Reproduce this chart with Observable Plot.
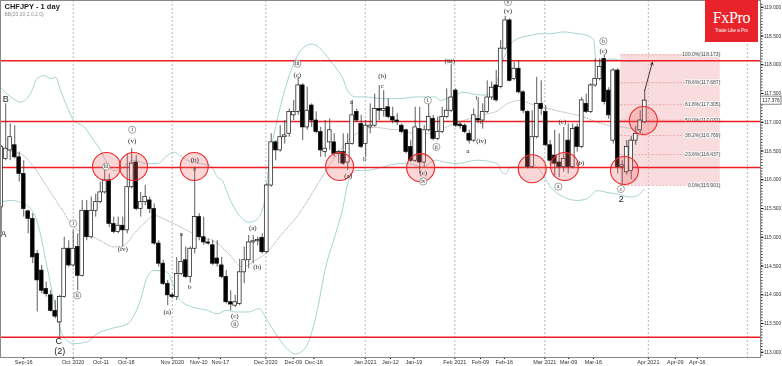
<!DOCTYPE html>
<html><head><meta charset="utf-8">
<script src="https://cdn.jsdelivr.net/npm/d3@7"></script>
<script src="https://cdn.jsdelivr.net/npm/@observablehq/plot@0.6"></script>
<style>
body{margin:0;background:#fff;}
#wrap{position:relative;width:782px;height:366px;font-family:"Liberation Sans",Arial,sans-serif;}
#logo{position:absolute;left:705px;top:0;width:53px;height:42px;background:#e8232a;color:#fff;text-align:center;}
#logo .t1{font-family:"Liberation Serif",serif;font-size:16px;line-height:16px;margin-top:10px;letter-spacing:-0.3px;}
#logo .t2{font-size:4.5px;margin-top:2px;}
</style></head><body>
<div id="wrap"><div id="chart"></div><div id="logo"><div class="t1">FxPro</div><div class="t2">Trade Like a Pro</div></div></div>
<script>
// ---- data (bar index k: 0 = Oct 1 2020, consecutive trading days) ----
const firstK = -16;
const opens  = [115.52,116.36,116.51,116.60,116.39,116.10,115.45,115.32,114.71,114.42,114.10,113.99,113.72,113.52,113.96,114.80,
114.51,114.83,114.33,115.46,115.00,115.46,115.61,115.78,115.99,115.23,115.09,115.20,115.12,115.87,116.30,115.49,115.61,115.64,115.49,114.89,114.54,114.19,
113.99,113.96,114.36,114.60,114.31,114.80,115.35,115.00,114.91,114.86,114.63,114.51,114.31,113.87,113.81,113.84,114.39,114.60,114.91,114.93,114.99,
114.74,115.90,116.65,116.51,116.74,116.80,117.12,117.18,117.64,116.91,117.29,117.03,116.83,116.48,116.65,116.65,116.45,116.48,116.30,116.62,117.18,116.97,
116.62,116.91,116.94,117.23,117.20,117.26,117.09,117.03,116.94,116.86,116.57,116.33,116.88,116.30,116.86,117.06,116.71,116.83,117.09,117.20,
117.55,116.96,116.94,116.80,116.68,117.06,117.03,117.18,117.43,117.64,117.61,118.28,118.77,117.75,117.93,117.52,117.18,116.22,116.74,117.32,
117.18,116.60,116.42,116.30,116.22,116.68,116.22,116.91,116.57,117.32,117.18,117.64,117.75,118.10,117.55,116.68,117.90,116.22,116.13,116.15,116.68,116.86,117.00];
const highs  = [116.60,117.32,116.97,116.94,116.48,116.33,115.47,115.41,114.77,114.51,114.22,114.07,113.90,113.99,115.00,114.94,
115.12,115.06,115.64,115.64,115.70,115.75,115.96,116.28,116.10,115.35,115.35,115.35,116.45,116.54,116.42,115.78,115.90,115.70,115.58,114.94,114.60,114.25,
114.02,114.65,115.06,114.83,114.83,116.22,115.41,115.35,114.97,114.94,114.94,114.65,114.42,114.07,113.99,114.62,114.83,115.03,115.03,115.00,115.06,
115.93,116.80,116.68,116.94,117.03,117.23,117.38,117.78,117.67,117.61,117.32,117.18,116.91,117.03,117.06,116.80,116.51,116.80,116.80,117.38,117.23,117.12,
117.03,117.32,117.49,117.64,117.55,117.41,117.26,117.15,116.97,116.88,116.68,117.26,117.26,116.94,117.32,117.12,117.09,117.26,117.58,118.01,
117.58,117.00,116.97,116.86,117.23,117.38,117.32,117.72,117.70,117.90,118.42,118.84,118.80,118.04,118.07,117.55,117.20,117.20,117.78,117.72,
117.29,116.68,116.86,116.80,116.91,116.97,116.97,116.97,117.43,117.49,117.67,118.10,118.10,118.173,117.60,117.93,117.93,116.33,116.68,116.75,116.93,117.20,117.55];
const lows   = [115.06,116.33,116.33,116.36,115.96,115.35,115.06,114.54,113.70,114.02,113.96,113.70,113.58,113.26,113.94,114.48,
114.48,114.07,114.31,114.94,114.97,115.35,115.58,115.75,115.17,115.06,115.06,114.83,115.06,115.84,115.46,115.35,115.55,115.41,114.86,114.48,114.16,113.81,
113.93,113.90,114.33,114.28,114.20,114.71,114.94,114.86,114.86,114.51,114.48,114.28,113.84,113.72,113.78,113.81,114.19,114.45,114.54,114.85,114.71,
114.71,115.87,116.33,116.48,116.62,116.74,117.03,117.12,116.68,116.86,116.91,116.80,116.39,116.39,116.51,116.39,116.28,116.25,116.16,116.60,117.00,116.54,
116.39,116.80,116.91,117.03,117.09,117.06,116.97,116.94,116.80,116.45,116.30,116.30,116.10,116.22,116.83,116.68,116.68,116.80,117.06,117.17,
116.91,116.88,116.80,116.62,116.65,116.97,116.88,117.15,117.38,117.35,117.58,118.25,117.70,117.72,117.49,117.15,116.19,116.19,116.71,117.12,
116.57,116.25,116.07,116.04,116.13,116.10,116.19,116.48,116.54,117.15,117.15,117.61,117.72,117.30,117.05,116.62,116.10,115.901,116.08,116.00,116.60,116.80,116.97];
const closes = [116.57,116.54,116.74,116.39,116.10,115.49,115.32,114.65,114.25,114.07,114.01,113.72,113.62,113.96,114.80,114.51,
114.80,114.33,115.46,115.00,115.46,115.61,115.78,115.99,115.23,115.09,115.20,115.12,115.87,116.28,115.49,115.61,115.70,115.49,114.89,114.54,114.19,113.99,
113.96,114.36,114.57,114.31,114.80,115.35,115.00,114.91,114.89,114.54,114.54,114.31,113.87,113.83,113.87,114.39,114.60,114.91,114.93,114.95,114.74,
115.90,116.65,116.51,116.74,116.77,117.18,117.18,117.64,116.91,117.20,117.03,116.83,116.51,116.54,116.86,116.45,116.48,116.28,116.62,117.12,117.03,116.57,
116.94,116.94,117.23,117.20,117.23,117.09,117.03,117.00,116.83,116.48,116.33,116.91,116.30,116.86,117.09,116.71,116.83,117.09,117.20,117.43,
116.94,116.93,116.83,116.68,117.12,117.03,117.18,117.43,117.60,117.38,118.28,118.77,117.72,117.93,117.52,117.20,116.22,116.74,117.32,117.23,
116.60,116.33,116.28,116.22,116.36,116.22,116.88,116.57,117.38,117.18,117.64,117.75,117.96,117.35,117.12,117.90,116.22,116.25,116.57,116.68,116.80,117.03,117.376];

const bbUpper = [[-16.2,117.61],[-13.9,117.44],[-11.7,117.35],[-9.5,117.50],[-8,117.76],[-6.5,117.81],[-5,117.76],[-3.9,117.78],[-2.8,117.55],[-1.3,117.26],[0.1,117.03],[2.4,116.92],[4.6,116.68],[6.1,116.51],[7.6,116.28],[9,116.16],[10.5,116.19],[13.5,116.34],[16.4,116.28],[18.7,116.28],[20.9,116.42],[22.4,116.48],[23.8,116.42],[25.3,116.34],[28.3,116.28],[30.5,116.25],[32,116.05],[33.1,115.99],[34.6,115.70],[36.1,115.47],[37.6,115.32],[39,115.26],[40.5,115.29],[42,115.47],[42.7,115.70],[43.5,116.28],[45,116.92],[46.4,117.38],[48.7,117.96],[50.9,118.28],[53.1,118.36],[55.3,118.25],[57.6,118.02],[59.8,117.78],[61.2,117.52],[62.7,117.44],[65,117.44],[68.7,117.41],[72.4,117.41],[76.1,117.44],[80.5,117.44],[81.6,117.38],[83.8,117.44],[86.8,117.52],[89,117.49],[91.2,117.47],[93.5,117.55],[95,117.96],[97.2,118.36],[98.7,118.45],[101.6,118.51],[103.8,118.54],[106.1,118.54],[109,118.57],[112,118.54],[114.2,118.51],[115.7,118.42],[116.1,118.10],[117.2,118.05],[119.4,118.10],[122.4,118.07],[124.6,118.05],[126.8,118.07]];
const bbMiddle = [[-16.2,116.57],[-13.2,116.48],[-11.7,116.45],[-8.7,116.22],[-5.8,115.87],[-2.8,115.52],[0.1,115.18],[3.1,115.06],[6.1,114.94],[9,114.83],[11.3,114.86],[13.5,115.06],[16.4,115.29],[17.9,115.38],[20.9,115.29],[25.3,115.12],[28.3,115.00],[31.2,114.94],[34.6,114.71],[37.6,114.48],[40.5,114.60],[42.7,114.71],[46.4,115.06],[50.2,115.41],[53.9,115.87],[57.6,116.33],[61.2,116.68],[64.2,116.86],[67.2,116.91],[70.1,116.88],[73.1,116.86],[76.1,116.80],[79,116.80],[82.6,116.91],[86.8,117.03],[90.4,117.12],[94.3,117.20],[96.4,117.32],[99.5,117.38],[101.6,117.32],[104.6,117.26],[107.5,117.20],[110.5,117.15],[113.5,117.09],[116.4,117.00],[119.4,116.94],[122.4,116.91],[125.3,116.86],[126.8,116.80]];
const bbLower = [[-16.2,115.61],[-13.9,115.64],[-11.7,115.61],[-8.7,115.41],[-7.3,115.06],[-5.8,114.48],[-4.3,113.90],[-2.8,113.38],[-1.3,113.20],[0.1,113.15],[3.1,113.18],[5.3,113.32],[8.3,113.41],[12,113.49],[14.9,113.90],[16.4,114.30],[17.9,114.42],[19.4,114.42],[20.9,114.39],[22.4,114.13],[23.8,113.90],[26.8,113.78],[29.8,113.73],[32,113.67],[34.1,113.73],[36.1,113.70],[39,113.70],[41.3,113.76],[42.7,113.61],[45,113.32],[47.2,113.09],[49.4,112.97],[51.7,113.09],[53.9,113.61],[56.1,114.48],[58.3,115.06],[59.8,115.47],[61.2,115.99],[62.7,116.16],[65,116.16],[68.7,116.22],[72.4,116.28],[74.6,116.28],[77.6,116.22],[80.5,116.34],[82.3,116.31],[85.3,116.28],[89.7,116.34],[94.3,116.28],[95,116.16],[96.1,116.10],[97.2,116.22],[99.5,116.22],[101.6,116.28],[103.8,116.16],[106.1,115.87],[109,115.70],[112,115.64],[114.2,115.67],[116.4,115.81],[118.6,115.78],[120.9,115.75],[123.8,115.70],[125.3,115.72],[126.8,115.84]];

const keyLevels = [118.07, 117.013, 116.213, 113.262];
const fibPct    = ["100.0%","78.6%","61.8%","50.0%","38.2%","23.6%","0.0%"];
const fibPrice  = [118.173,117.687,117.305,117.037,116.769,116.437,115.901];
const fibStartK = 121.7, fibEndK = 143.8;

const circleK = [7.4,13.4,26.9,59.2,77.2,102.0,109.2,122.5,126.7];
const circleP = [116.23,116.23,116.23,116.23,116.21,116.19,116.23,116.16,117.03];

// wave labels: [text, k, price, circled?, big?]
const waveLabels = [
 ["B",-15.0,117.40,0,1],["A",-16.16,115.06,0,2],["C",-3.2,113.19,0,1],["(2)",-3.0,113.02,0,1],
 ["i",0,115.24,1,0],["ii",0.9,113.99,1,0],["iii",7.3,116.23,1,0],["i",13.1,116.87,1,0],["(v)",13.1,116.67,0,0],
 ["(iv)",11.0,114.80,0,0],["(a)",20.9,113.70,0,0],["a",24.0,115.06,0,0],["b",25.9,114.14,0,0],["(b)",27.0,116.35,0,0],["c",27.0,116.19,0,0],
 ["(a)",39.9,115.17,0,0],["(b)",40.9,114.48,0,0],["(c)",35.9,113.64,0,0],["ii",35.9,113.49,1,0],
 ["iii",49.8,118.02,1,0],["(c)",49.8,117.83,0,0],["a",61.8,117.35,0,0],["(a)",61.1,116.07,0,0],["(b)",68.7,117.80,0,0],["c",68.7,117.64,0,0],
 ["b",64.8,116.36,0,0],["(c)",77.8,116.13,0,0],["iv",77.8,115.97,1,0],["i",78.8,117.38,1,0],["ii",80.7,116.57,1,0],
 ["(iii)",83.7,118.07,0,0],["a",87.7,116.51,0,0],["b",89.8,117.42,0,0],["c",90.7,117.00,0,0],["(iv)",90.7,116.67,0,0],
 ["v",96.6,119.09,1,0],["(v)",96.6,118.94,0,0],["a",107.8,115.88,1,0],["(c)",108.7,117.00,0,0],["(b)",112.7,116.30,0,0],
 ["b",117.8,118.41,1,0],["(c)",117.8,118.25,0,0],["c",121.7,115.84,1,0],["2",121.8,115.66,0,1]
];

const monthK = [0,22,42.8,64.9,84.8,104.8,127.8,149.8];
const dateTickK = [-11,0,6.2,11.8,22,27.9,32.7,42.8,48.9,53.5,64.9,70.5,75.7,84.8,90.5,95.8,104.8,110.1,115.6,127.8,133.8,138.7];
const dateTickLabels = ["Sep-16","Oct 2020","Oct-11","Oct-18","Nov 2020","Nov-10","Nov-17","Dec 2020","Dec-09","Dec-16","Jan 2021","Jan-12","Jan-19","Feb 2021","Feb-09","Feb-16","Mar 2021","Mar-09","Mar-16","Apr 2021","Apr-09","Apr-16"];
const priceTicks = [113,113.5,114,114.5,115,115.5,116,116.5,117,117.5,118,118.5,119];
const lastPrice = 117.376;

// ---- build ----
const candles = opens.map((o,i)=>({k:firstK+i, open:o, high:highs[i], low:lows[i], close:closes[i]}));
const toPts = a => a.map(([k,p])=>({k,p}));
const fib = fibPct.map((pct,i)=>({pct, price:fibPrice[i]}));
const circles = circleK.map((k,i)=>({k, p:circleP[i]}));
const labels = waveLabels.map(([t,k,p,c,b])=>({t,k,p,c,b}));
const tickMap = new Map(dateTickK.map((k,i)=>[k,dateTickLabels[i]]));
const minorTicks = d3.range(112.95, 119.1, 0.05);

const xDom = [-16.16, 152.73];
const chart = Plot.plot({
  width: 782, height: 366,
  marginLeft: 0, marginRight: 22, marginTop: 0, marginBottom: 9,
  style: {fontFamily: '"Liberation Sans", Arial, sans-serif', background: "#fff", overflow: "hidden"},
  x: {domain: xDom, axis: null, label: null},
  y: {domain: [112.909, 119.117], axis: null, label: null},
  marks: [
    Plot.ruleX(monthK, {stroke: "#999", strokeDasharray: "2,2", strokeWidth: 0.7}),
    Plot.rect([0], {x1: fibStartK, x2: fibEndK, y1: fibPrice[6], y2: fibPrice[0], fill: "#f3c0c3", fillOpacity: 0.55}),
    Plot.ruleY(fib, {y: "price", x1: fibStartK, x2: fibEndK, stroke: "#eb9ca2", strokeWidth: 0.8, strokeDasharray: "2,1.5"}),
    Plot.text(fib, {x: fibEndK, y: "price", text: d => `${d.pct}(${d.price.toFixed(3)})`, textAnchor: "end", fontSize: 5, fill: "#555", stroke: "#fdf1f1", strokeWidth: 2, paintOrder: "stroke"}),
    Plot.line(toPts(bbUpper), {x: "k", y: "p", stroke: "#a7d3d3", strokeWidth: 1, curve: "monotone-x"}),
    Plot.line(toPts(bbLower), {x: "k", y: "p", stroke: "#a7d3d3", strokeWidth: 1, curve: "monotone-x"}),
    Plot.line(toPts(bbMiddle), {x: "k", y: "p", stroke: "#aaa", strokeWidth: 0.8, strokeDasharray: "1.5,1.5", curve: "monotone-x"}),
    Plot.ruleY(keyLevels, {stroke: "#ee1d23", strokeWidth: 1.6}),
    Plot.ruleX(candles, {x: "k", y1: "low", y2: "high", stroke: "#333", strokeWidth: 0.8}),
    Plot.rect(candles, {x1: d => d.k - 0.42, x2: d => d.k + 0.42, y1: "open", y2: "close",
      fill: d => d.close >= d.open ? "#fff" : "#000", stroke: "#111", strokeWidth: 0.7}),
    Plot.dot(circles, {x: "k", y: "p", r: 14, fill: "#f26d6d", fillOpacity: 0.28, stroke: "#ee2a2a", strokeWidth: 1.1}),
    Plot.arrow([0], {x1: 127, y1: 117.55, x2: 128.7, y2: 118.04, stroke: "#111", strokeWidth: 0.8, headLength: 5}),
    Plot.dot(labels.filter(d => d.c), {x: "k", y: "p", r: 3.6, fill: "#fff", stroke: "#666", strokeWidth: 0.6}),
    Plot.text(labels.filter(d => !d.b), {x: "k", y: "p", text: "t", fontSize: d => d.c ? 5.5 : 7, fontFamily: '"Liberation Serif", serif', fill: "#222"}),
    Plot.text(labels.filter(d => d.b === 1), {x: "k", y: "p", text: "t", fontSize: 9, fill: "#222"}),
    Plot.text(labels.filter(d => d.b === 2), {x: "k", y: "p", text: "t", fontSize: 9, fill: "#222", textAnchor: "start"}),
    Plot.axisY({anchor: "right", ticks: minorTicks, tickSize: 1.5, tickFormat: () => "", stroke: "#333", label: null}),
    Plot.axisY({anchor: "right", ticks: priceTicks, tickSize: 2.5, tickPadding: 1, tickFormat: d => d.toFixed(3), fontSize: 4.9, fill: "#333", label: null}),
    Plot.axisX({anchor: "bottom", ticks: dateTickK, tickSize: 2, tickPadding: 1, tickFormat: d => tickMap.get(d), fontSize: 5.5, fill: "#333", label: null}),
    Plot.rect([0], {x1: 152.8, x2: 157.4, y1: lastPrice - 0.07, y2: lastPrice + 0.07, fill: "#fff", stroke: "#333", strokeWidth: 0.6}),
    Plot.text([lastPrice], {x: 152.8, y: d => d, text: d => d.toFixed(3), textAnchor: "start", dx: 1.5, fontSize: 4.9, fill: "#222"}),
    Plot.frame({stroke: "#888", strokeWidth: 1}),
    Plot.text(["CHFJPY - 1 day"], {frameAnchor: "top-left", dx: 4, dy: 3, fontSize: 7.5, fontWeight: "bold", fill: "#222", lineAnchor: "top"}),
    Plot.text(["BB(20,20,2.0,2.0)"], {frameAnchor: "top-left", dx: 4, dy: 11.5, fontSize: 5, fill: "#5aa0a0", lineAnchor: "top"})
  ]
});
// force grayscale antialiasing on small texts
d3.select(chart).selectAll('g[aria-label="text"], g[aria-label$="tick label"]').style("filter", "grayscale(1)");
document.getElementById("chart").appendChild(chart);
</script></body></html>
